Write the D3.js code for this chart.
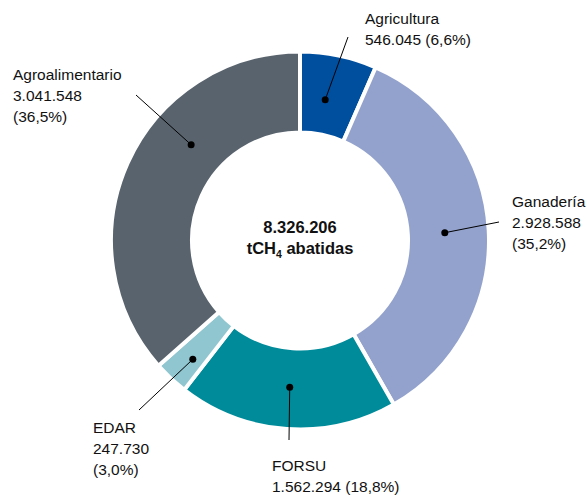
<!DOCTYPE html>
<html>
<head>
<meta charset="utf-8">
<script src="https://cdn.jsdelivr.net/npm/d3@7"></script>
<style>
  html, body { margin: 0; padding: 0; background: #ffffff; }
  svg { display: block; font-family: "Liberation Sans", Arial, sans-serif; }
</style>
</head>
<body>
<svg id="chart" width="587" height="495"></svg>
<script>
// Methane abatement by sector (tCH4)
const categories = ["Agricultura", "Ganadería", "FORSU", "EDAR", "Agroalimentario"];
const values = [546045, 2928588, 1562294, 247730, 3041548];
const valueLabels = ["546.045", "2.928.588", "1.562.294", "247.730", "3.041.548"];
const shareLabels = ["6,6%", "35,2%", "18,8%", "3,0%", "36,5%"];
const totalLabel = "8.326.206";
const colors = ["#004f9e", "#93a2cd", "#008b9a", "#8fc6d0", "#59636d"];

const width = 587, height = 495;
const cx = 300, cy = 240.5;
const outerR = 189, innerR = 108;

// Callout layout: where the dot sits (fraction across the slice, radius),
// where the leader line ends and where the text block starts.
const callouts = [
  { t: 0.43, r: 143, end: [348, 37],  text: [365, 24],  lines: d => [d.cat, `${d.val} (${d.share})`] },
  { t: 0.5,  r: 145, end: [499, 222], text: [512, 207], lines: d => [d.cat, d.val, `(${d.share})`] },
  { t: 0.5,  r: 147, end: [289, 440], text: [272, 471], lines: d => [d.cat, `${d.val} (${d.share})`] },
  { t: 0.4,  r: 160, end: [139, 410], text: [93, 433],  lines: d => [d.cat, d.val, `(${d.share})`] },
  { t: 0.63, r: 145, end: [136, 95],  text: [13, 80],   lines: d => [d.cat, d.val, `(${d.share})`] }
];

const data = categories.map((c, i) => ({
  cat: c, value: values[i], val: valueLabels[i], share: shareLabels[i], color: colors[i], i
}));

const svg = d3.select("#chart");
const g = svg.append("g").attr("transform", `translate(${cx},${cy})`);

const pie = d3.pie().value(d => d.value).sort(null);
const arc = d3.arc().innerRadius(innerR).outerRadius(outerR);
const arcs = pie(data);

g.selectAll("path.slice")
  .data(arcs)
  .join("path")
  .attr("class", "slice")
  .attr("d", arc)
  .attr("fill", d => d.data.color)
  .attr("stroke", "#ffffff")
  .attr("stroke-width", 4)
  .attr("stroke-linejoin", "miter");

// Leader lines and dots
const ann = svg.append("g");
arcs.forEach((a, i) => {
  const c = callouts[i];
  const ang = a.startAngle + (a.endAngle - a.startAngle) * c.t;
  const px = cx + c.r * Math.sin(ang);
  const py = cy - c.r * Math.cos(ang);
  ann.append("line")
    .attr("x1", px).attr("y1", py)
    .attr("x2", c.end[0]).attr("y2", c.end[1])
    .attr("stroke", "#000").attr("stroke-width", 1);
  ann.append("circle")
    .attr("cx", px).attr("cy", py).attr("r", 3.5)
    .attr("fill", "#000");
  const txt = ann.append("text")
    .attr("x", c.text[0]).attr("y", c.text[1])
    .attr("font-size", 15.5)
    .attr("fill", "#111");
  c.lines(a.data).forEach((ln, k) => {
    txt.append("tspan")
      .attr("x", c.text[0])
      .attr("dy", k === 0 ? 0 : 21)
      .text(ln);
  });
});

// Centre total
const centre = svg.append("g").attr("font-weight", "bold").attr("fill", "#111")
  .attr("text-anchor", "middle");
centre.append("text")
  .attr("x", cx).attr("y", 233)
  .attr("font-size", 16.5)
  .text(totalLabel);
const unit = centre.append("text")
  .attr("x", cx).attr("y", 254)
  .attr("font-size", 16.5);
unit.append("tspan").text("tCH");
unit.append("tspan").attr("font-size", 10.5).attr("dy", 4).text("4");
unit.append("tspan").attr("dy", -4).text(" abatidas");
</script>
</body>
</html>
